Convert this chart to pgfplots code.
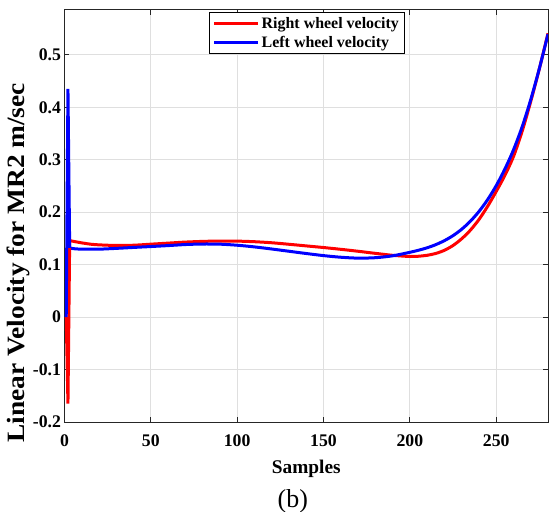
\documentclass[border=0pt]{standalone}
\usepackage{fontspec}
\setmainfont{Liberation Serif}
\usepackage{graphicx}
\usepackage{pgfplots}
\pgfplotsset{compat=1.18}
\definecolor{gridc}{RGB}{223,223,223}
\definecolor{axc}{RGB}{38,38,38}
\begin{document}
\begin{tikzpicture}
\path[use as bounding box] (-64.5bp,-90bp) rectangle (484.5bp,422bp);
\begin{axis}[
  at={(0,0)}, anchor=south west,
  scale only axis, width=483.5bp, height=412.3bp,
  xmin=0, xmax=280, ymin=-0.2, ymax=0.586,
  xtick={0,50,100,150,200,250},
  ytick={-0.2,-0.1,0,0.1,0.2,0.3,0.4,0.5},
  xticklabels={0,50,100,150,200,250},
  yticklabels={-0.2,-0.1,0,0.1,0.2,0.3,0.4,0.5},
  tick label style={font=\bfseries\fontsize{17.8}{20}\selectfont, color=black},
  xticklabel style={yshift=-9bp},
  major tick length=5bp,
  tick style={axc, line width=0.8bp},
  axis line style={axc, line width=0.8bp},
  grid=major, grid style={gridc, line width=0.8bp},
  xlabel={Samples},
  ylabel={\scalebox{1.1}[1]{Linear Velocity for MR2 m/sec}},
  xlabel style={at={(axis description cs:0.5,-0.125)}, anchor=base, font=\bfseries\fontsize{19.4}{22}\selectfont},
  ylabel style={at={(axis description cs:-0.0817,0.386)}, anchor=base, font=\bfseries\fontsize{25}{28}\selectfont},
  legend style={at={(axis description cs:0.2995,0.9952)}, anchor=north west, draw=black, line width=0.8bp, fill=white,
    font=\bfseries\fontsize{16}{18}\selectfont, inner xsep=3bp, inner ysep=3bp, row sep=2.5bp, nodes={inner sep=2bp}},
  legend cell align=left,
  legend image code/.code={\draw[#1, line width=3bp] (0bp,0bp) -- (44bp,0bp);},
]
\addplot[red, line width=3bp, smooth, tension=0.5] coordinates {
(3,0.146) (5,0.1445) (10,0.1415) (15,0.139) (20,0.1377) (30,0.1365) (40,0.137) (50,0.139)
(60,0.141) (70,0.143) (80,0.1443) (90,0.145) (100,0.1448) (110,0.1437) (120,0.1417) (130,0.1388)
(140,0.1357) (150,0.1326) (160,0.1292) (170,0.1255) (180,0.1215) (190,0.1178) (200,0.1155) (205,0.116)
(210,0.1178) (215,0.1213) (220,0.1273) (225,0.1365) (230,0.1493) (235,0.1655) (240,0.186) (245,0.211)
(250,0.2395) (255,0.270) (260,0.306) (265,0.354) (270,0.411) (275,0.4735) (280,0.541)};
\addlegendentry{Right wheel velocity}
\addplot[blue, line width=3bp, smooth, tension=0.5] coordinates {
(3,0.132) (5,0.1305) (10,0.1295) (20,0.1295) (30,0.131) (40,0.1328) (50,0.1345) (60,0.1363)
(70,0.1383) (80,0.1393) (90,0.139) (100,0.137) (110,0.1338) (120,0.1298) (130,0.1255) (140,0.1212)
(150,0.1172) (160,0.1141) (170,0.1124) (180,0.1132) (190,0.1168) (200,0.1235) (205,0.1274) (210,0.1321)
(215,0.1381) (220,0.1457) (225,0.1553) (230,0.1674) (235,0.1826) (240,0.2012) (245,0.2237) (250,0.2505)
(255,0.282) (260,0.3187) (265,0.3625) (270,0.4145) (275,0.474) (280,0.5395)};
\addlegendentry{Left wheel velocity}
\addplot[red, line width=3bp, forget plot] coordinates {(1,0) (2,-0.165) (3,0.146)};
\addplot[blue, line width=3bp, forget plot] coordinates {(1,0) (2,0.435) (3,0.132)};
\end{axis}
\node[anchor=base, font=\fontsize{26}{28}\selectfont] at (228.3bp,-85bp) {(b)};
\end{tikzpicture}
\end{document}
